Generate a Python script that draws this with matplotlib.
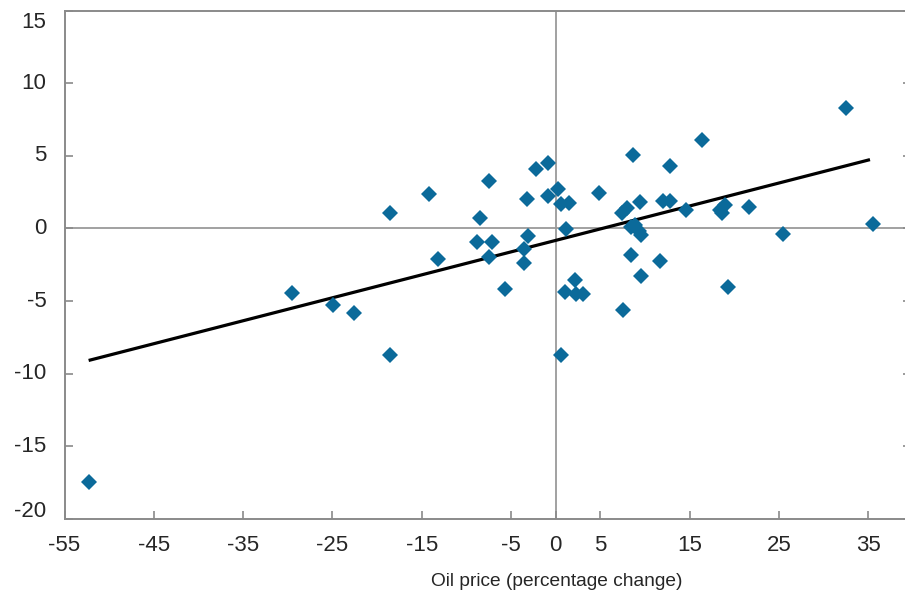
import matplotlib
matplotlib.use("Agg")
import matplotlib.pyplot as plt

plt.rcParams['font.family'] = ['Liberation Sans', 'DejaVu Sans']

# Scatter data: oil price change (x) vs. response (y)
oil_change = [-52.3, -29.5, -24.9, -22.6, -18.6, -18.6, -14.2, -13.2, -8.5, -8.8,
              -7.5, -7.1, -7.5, -5.7, -3.2, -3.1, -3.5, -3.5, -2.2, -0.9,
              -0.9, 0.3, 0.6, 1.5, 1.2, 1.0, 2.2, 2.3, 3.1, 0.6,
              4.9, 7.4, 8.0, 8.4, 8.9, 9.3, 9.6, 8.4, 9.6, 7.5,
              8.7, 9.4, 12.0, 12.8, 12.8, 11.7, 14.6, 16.4, 18.4, 18.6,
              19.0, 19.3, 21.7, 25.5, 32.5, 35.5]
response = [-17.5, -4.45, -5.25, -5.85, 1.1, -8.7, 2.4, -2.1, 0.75, -0.9,
            3.25, -0.9, -2.0, -4.2, 2.05, -0.55, -1.4, -2.4, 4.1, 4.5,
            2.25, 2.7, 1.7, 1.75, -0.05, -4.4, -3.55, -4.55, -4.55, -8.75,
            2.45, 1.05, 1.4, 0.1, 0.25, -0.2, -0.45, -1.8, -3.25, -5.6,
            5.05, 1.85, 1.9, 1.9, 4.3, -2.25, 1.3, 6.1, 1.3, 1.1,
            1.6, -4.0, 1.45, -0.4, 8.3, 0.3]

# Fitted trend line endpoints
fit_x = [-52.3, 35.2]
fit_y = [-9.1, 4.75]

x_ticks = [-55, -45, -35, -25, -15, -5, 0, 5, 15, 25, 35]
y_ticks = [-20, -15, -10, -5, 0, 5, 10, 15]
x_label = "Oil price (percentage change)"

fig = plt.figure(figsize=(9.05, 6.0), dpi=100)
ax = fig.add_axes([0.0713, 0.1358, 0.9354, 0.8459])

ax.axhline(0, color='#9a9a9a', lw=1.3, zorder=1)
ax.axvline(0, color='#9a9a9a', lw=1.3, zorder=1)

ax.plot(fit_x, fit_y, color='black', lw=2.3, zorder=3, solid_capstyle='butt')
ax.plot(oil_change, response, linestyle='none', marker='D', markersize=8.0,
        color='#0B6A9A', markeredgewidth=0, zorder=4)

ax.set_xlim(-55, 39.8)
ax.set_ylim(-20, 15)
ax.set_xticks(x_ticks)
ax.set_yticks(y_ticks)
ax.set_xticklabels([str(v) for v in x_ticks])

# y tick labels drawn as text so the edge labels can sit inward like the original
ax.set_yticklabels([''] * len(y_ticks))
edge_shift = {15: -12, -20: 7}
for v in y_ticks:
    ax.annotate(str(v), xy=(0, v), xycoords=('axes fraction', 'data'),
                xytext=(-13, edge_shift.get(v, 0) * 0.72), textcoords='offset points',
                ha='right', va='center', fontsize=16, color='#262626')

for s in ax.spines.values():
    s.set_color('#8a8a8a')
    s.set_linewidth(1.4)

ax.tick_params(axis='both', direction='in', length=6, width=1.2, color='#8a8a8a',
               labelsize=16, labelcolor='#262626')
ax.tick_params(axis='x', pad=12)
ax.tick_params(axis='y', right=True)

ax.set_xlabel(x_label, fontsize=13.8, color='#262626')
ax.xaxis.set_label_coords(0.582, -0.108)

fig.savefig("out.png", dpi=100)
